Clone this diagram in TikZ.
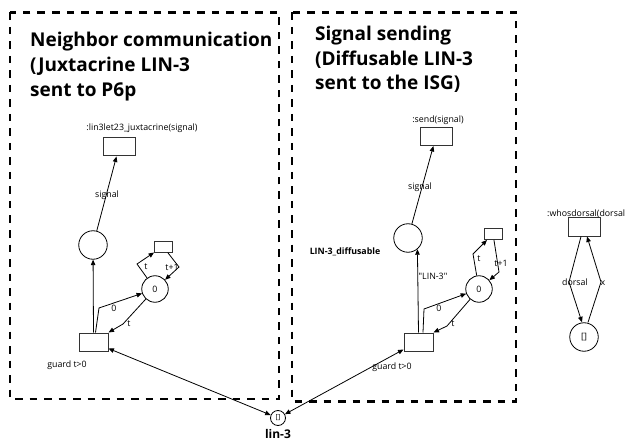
\documentclass[tikz,border=0pt]{standalone}
\usepackage{fontspec}
\setmainfont{Open Sans}
\newfontfamily\plainq{Open Sans}
\usetikzlibrary{arrows.meta}
\begin{document}
\begin{tikzpicture}[x=1pt,y=-1pt,
  lbl/.style={font=\fontsize{8.8}{10}\selectfont, inner sep=0pt},
  blbl/.style={font=\fontsize{8.8}{10}\selectfont\bfseries, inner sep=0pt},
  ttl/.style={font=\fontsize{19}{25}\selectfont\bfseries, inner sep=0pt, anchor=base west},
  place/.style={circle, draw, line width=0.8pt, minimum size=28.5pt, inner sep=0pt, font=\fontsize{8.8}{10}\selectfont},
  placez/.style={place, minimum size=26.5pt},
  trans/.style={rectangle, draw=black!80, line width=1pt, minimum width=32pt, minimum height=18pt, inner sep=0pt},
  transg/.style={trans, minimum width=29pt},
  smallt/.style={rectangle, draw=black!80, line width=1pt, minimum width=18pt, minimum height=11pt, inner sep=0pt},
  arc/.style={line width=0.8pt, -{Triangle[length=5.5pt,width=4.5pt]}},
  darc/.style={line width=0.8pt, {Triangle[length=5.5pt,width=4.5pt]}-{Triangle[length=5.5pt,width=4.5pt]}},
  dbox/.style={line width=2.5pt, dash pattern=on 7.5pt off 7pt}
]
\useasboundingbox (0,0) rectangle (627,441);

% dashed boxes
\draw[dbox] (10,12.5) rectangle (279,399);
\draw[dbox] (292,12.5) rectangle (516,401.5);

% titles
\node[ttl] (t1a) at (30,47) {Neighbor communication};
\node[ttl] (t1b) at (30,72) {(Juxtacrine LIN-3};
\node[ttl] (t1c) at (30,97) {sent to P6p};
\node[ttl] (t2a) at (315,41) {Signal sending};
\node[ttl] (t2b) at (315,65.5) {(Diffusable LIN-3};
\node[ttl] (t2c) at (315,90) {sent to the ISG)};

% ---------- left net ----------
\node[lbl] (llab) at (142,128) {:lin3let23\_juxtacrine(signal)};
\node[trans] (lt) at (119,147) {};
\node[place] (lp) at (93,245) {};
\node[smallt] (ls) at (163,246.5) {};
\node[placez] (l0) at (155,289) {0};
\node[transg] (lg) at (93.5,342) {};
\node[lbl] (lgl) at (67,365) {guard t>0};

\draw[arc] (lp) -- (lt);
\node[lbl] (lsig) at (107,195) {signal};
\draw[arc] (lg.north) -- (lp);
\draw[arc] ([xshift=2pt]lg.north) -- (99,308) -- (l0);
\node[lbl] (lzero) at (114,308) {0};
\draw[arc] (l0) -- (123,324) -- (lg.north east);
\node[lbl] (lt1) at (129,324) {t};
\draw[arc] (l0) -- (137,264) -- (ls);
\node[lbl] (lt2) at (146,267) {t};
\draw[arc] (ls) -- (179,267) -- (l0);
\node[lbl] (lt3) at (172,267) {t+1};

% ---------- right net ----------
\node[lbl] (rlab) at (438,120) {:send(signal)};
\node[trans] (rt) at (436,136.5) {};
\node[place] (rp) at (408,238) {};
\node[blbl] (rdif) at (345,252) {LIN-3\_diffusable};
\node[smallt] (rs) at (493,234) {};
\node[placez] (r0) at (479,289) {0};
\node[transg] (rg) at (418.5,342) {};
\node[lbl] (rgl) at (392,367) {guard t>0};

\draw[arc] (rp) -- (rt);
\node[lbl] (rsig) at (420,187) {signal};
\draw[arc] (rg.north) -- (rp.-50);
\node[lbl, font=\fontsize{8.8}{10}\plainq] (rlin) at (433,276) {"LIN-3"};
\draw[arc] ([xshift=4.5pt]rg.north) -- (424,309) -- (r0);
\node[lbl] (rzero) at (439,308) {0};
\draw[arc] (r0) -- (447,326) -- (rg.north east);
\node[lbl] (rt1) at (453,324) {t};
\draw[arc] (r0) -- (473,254) -- (rs);
\node[lbl] (rt2) at (479,259) {t};
\draw[arc] (rs) -- (499,272) -- (r0);
\node[lbl] (rt3) at (501,263) {t+1};

% ---------- whosdorsal ----------
\node[lbl, anchor=west] (wlab) at (547,214) {:whosdorsal(dorsal};
\node[trans] (wt) at (584,227) {};
\node[place] (wp) at (584,337) {[]};
\draw[arc] ([xshift=-3pt]wt.south) -- (569,282) -- ([xshift=-2pt]wp.north);
\node[lbl] (wd) at (575,282) {dorsal};
\draw[arc] ([xshift=4pt]wp.north) -- (601,282) -- ([xshift=3pt]wt.south);
\node[lbl] (wx) at (603,283) {x};

% ---------- lin-3 ----------
\node[circle, draw, line width=0.8pt, minimum size=15pt, inner sep=0pt, font=\fontsize{7}{8}\selectfont] (lin) at (278,418) {[]};
\node[font=\fontsize{12}{14}\selectfont\bfseries, inner sep=0pt] (linl) at (278,434) {lin-3};
\draw[darc] (lin) -- ([yshift=3pt]lg.south east);
\draw[darc] (lin) -- ([yshift=2pt]rg.south west);
\end{tikzpicture}
\end{document}
